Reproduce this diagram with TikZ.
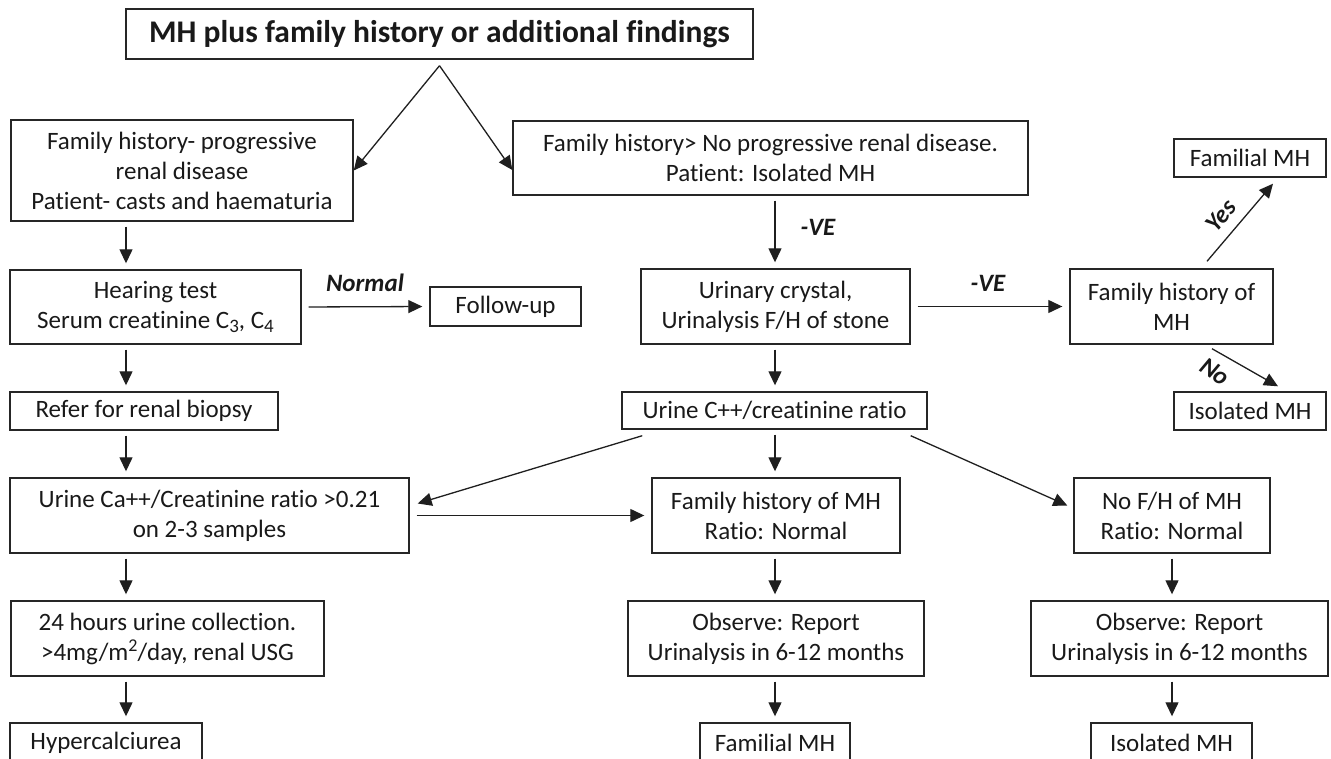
\documentclass[tikz,border=0pt]{standalone}
\usepackage{fontspec}
\setmainfont{Carlito}[RawFeature=-liga, RawFeature=-clig, RawFeature=-calt, RawFeature=-dlig]
\usetikzlibrary{arrows.meta,calc}
\newcommand{\lsub}[1]{\raisebox{-0.4ex}{\fontsize{19}{19}\selectfont #1}}
\newcommand{\lsup}[1]{\raisebox{0.7ex}{\fontsize{18}{18}\selectfont #1}}
\begin{document}
\begin{tikzpicture}[x=1pt,y=-1pt,
  box/.style={draw=black!85, line width=1.4pt, align=center, inner sep=0pt, font=\fontsize{25}{30}\selectfont, text=black!90},
  arr/.style={draw=black!88, line width=1.3pt, -{Triangle[length=14pt,width=13pt]}},
  varr/.style={arr, shorten <=5pt, shorten >=6pt},
  harr/.style={arr, shorten <=7pt, shorten >=7pt},
  lbl/.style={font=\fontsize{25}{30}\selectfont\bfseries\itshape, text=black!90, inner sep=0pt},
]
\useasboundingbox (0,0) rectangle (1331,759);
\coordinate (cL) at (126,0);
\coordinate (cM) at (775,0);
\coordinate (cR) at (1172,0);

\node[box, minimum width=627pt, minimum height=50pt, font=\fontsize{31.5}{36}\selectfont\bfseries] (title) at (439.5,34) {MH plus family history or additional findings};
\node[box, minimum width=342pt, minimum height=101pt] (A) at (182,170.5) {Family history- progressive\\renal disease\\Patient- casts and haematuria};
\node[box, minimum width=515pt, minimum height=74pt] (B) at (770.5,158) {Family history> No progressive renal disease.\\Patient: Isolated MH};
\node[box, minimum width=152pt, minimum height=38pt] (famTop) at (1250,158) {Familial MH};
\node[box, minimum width=291pt, minimum height=74pt] (hear) at (155.5,307) {Hearing test\\Serum creatinine C\lsub{3}, C\lsub{4}};
\node[box, minimum width=151pt, minimum height=39pt] (follow) at (505.5,306.5) {Follow-up};
\node[box, minimum width=269pt, minimum height=75pt] (urinary) at (775.5,306.5) {Urinary crystal,\\Urinalysis F/H of stone};
\node[box, minimum width=203pt, minimum height=75pt] (famhist) at (1171.5,306.5) {Family history of\\MH};
\node[box, minimum width=152pt, minimum height=38pt] (isoTop) at (1250,411) {Isolated MH};
\node[box, minimum width=268pt, minimum height=38pt] (refer) at (144,411) {Refer for renal biopsy};
\node[box, minimum width=305pt, minimum height=37pt] (urineC) at (774.5,410.5) {Urine C++/creatinine ratio};
\node[box, minimum width=399pt, minimum height=75pt] (urineCa) at (209.5,515.5) {Urine Ca++/Creatinine ratio >0.21\\on 2-3 samples};
\node[box, minimum width=248pt, minimum height=75pt] (fhmh) at (776,515.5) {Family history of MH\\Ratio: Normal};
\node[box, minimum width=196pt, minimum height=75pt] (nofh) at (1172,515.5) {No F/H of MH\\Ratio: Normal};
\node[box, minimum width=313pt, minimum height=75pt] (h24) at (167.5,638.5) {24 hours urine collection.\\>4mg/m\lsup{2}/day, renal USG};
\node[box, minimum width=296pt, minimum height=75pt] (obs1) at (776,638.5) {Observe: Report\\Urinalysis in 6-12 months};
\node[box, minimum width=297pt, minimum height=75pt] (obs2) at (1179.5,638.5) {Observe: Report\\Urinalysis in 6-12 months};
\node[box, minimum width=192pt, minimum height=40pt] (hyper) at (106,743) {Hypercalciurea};
\node[box, minimum width=150pt, minimum height=40pt] (famB) at (775,743) {Familial MH};
\node[box, minimum width=161pt, minimum height=40pt] (isoB) at (1171.5,743) {Isolated MH};

% diagonal arrows from title
\draw[arr] ([yshift=-6pt]title.south) -- (A.east);
\draw[arr] ([yshift=-6pt]title.south) -- ([yshift=-12pt]B.west);

% left column
\draw[varr] (A.south -| cL) -- (hear.north -| cL);
\draw[varr] (hear.south -| cL) -- (refer.north -| cL);
\draw[varr] (refer.south -| cL) -- (urineCa.north -| cL);
\draw[varr] (urineCa.south -| cL) -- (h24.north -| cL);
\draw[varr] (h24.south -| cL) -- (hyper.north -| cL);

% middle column
\draw[varr] (B.south -| cM) -- (urinary.north -| cM);
\draw[varr] (urinary.south -| cM) -- (urineC.north -| cM);
\draw[varr] (urineC.south -| cM) -- (fhmh.north -| cM);
\draw[varr] (fhmh.south -| cM) -- (obs1.north -| cM);
\draw[varr] (obs1.south -| cM) -- (famB.north -| cM);

% right column
\draw[varr] (nofh.south -| cR) -- (obs2.north -| cR);
\draw[varr] (obs2.south -| cR) -- (isoB.north -| cR);

% horizontal arrows
\draw[harr] (hear.east) -- (follow.west);
\draw[harr] (urinary.east) -- (famhist.west);
\draw[harr] (urineCa.east) -- (fhmh.west);

% other diagonals
\draw[arr] ([xshift=21pt,yshift=-6pt]urineC.south west) -- ([xshift=8pt,yshift=12pt]urineCa.east);
\draw[arr] ([xshift=-17pt,yshift=-6pt]urineC.south east) -- ([xshift=-6pt,yshift=10pt]nofh.west);
\draw[arr] ([xshift=35.5pt,yshift=7pt]famhist.north) -- ([xshift=23pt,yshift=-6pt]famTop.south);
\draw[arr] ([xshift=40.5pt,yshift=-4pt]famhist.south) -- ([xshift=28pt,yshift=5pt]isoTop.north);

% labels
\node[lbl] (lnormal) at (365,283) {Normal};
\node[lbl] (lve1) at (818,227) {-VE};
\node[lbl] (lve2) at (988,283) {-VE};
\node[lbl, rotate=50] (lyes) at (1221,216) {Yes};
\node[lbl, rotate=-33] (lno) at (1215,372) {No};
\end{tikzpicture}
\end{document}
